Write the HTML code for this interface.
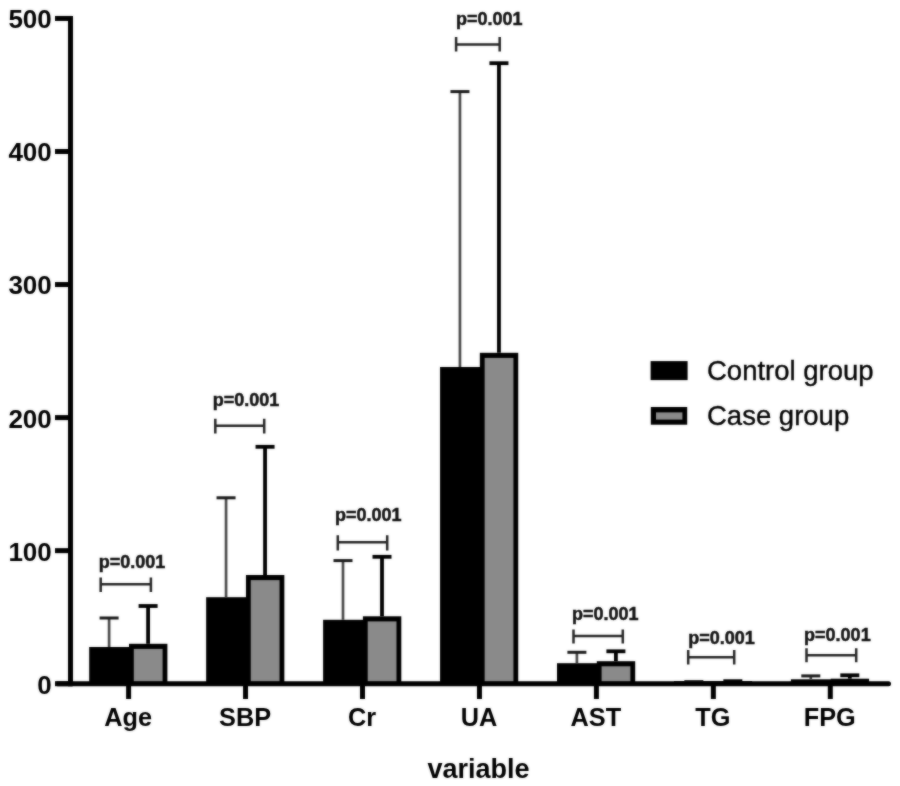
<!DOCTYPE html><html><head><meta charset="utf-8"><style>html,body{margin:0;padding:0;background:#fff;overflow:hidden;}svg{display:block;} #w{position:relative;width:900px;height:786px;} #b{position:absolute;left:0;top:0;filter:blur(0.8px);} #c{position:absolute;left:0;top:0;opacity:0.5;}text{font-family:"Liberation Sans",sans-serif;}</style></head><body>
<div id="w"><div id="b">
<svg width="900" height="786" viewBox="0 0 900 786">
<rect x="0" y="0" width="900" height="786" fill="#fff"/>
<rect x="89.19" y="647" width="41.4" height="36.70" fill="#000"/>
<rect x="129.0" y="643.8" width="38.4" height="39.90" fill="#000"/>
<rect x="133.8" y="648.9" width="28.79" height="32.80" fill="#8a8a8a"/>
<rect x="206.15" y="597.2" width="41.4" height="86.5" fill="#000"/>
<rect x="245.95" y="575" width="38.4" height="108.70" fill="#000"/>
<rect x="250.75" y="580.1" width="28.79" height="101.60" fill="#8a8a8a"/>
<rect x="323.1" y="619.8" width="41.4" height="63.90" fill="#000"/>
<rect x="362.9" y="616.3" width="38.4" height="67.40" fill="#000"/>
<rect x="367.7" y="621.4" width="28.79" height="60.30" fill="#8a8a8a"/>
<rect x="440.05" y="367" width="41.4" height="316.70" fill="#000"/>
<rect x="479.84" y="352.8" width="38.4" height="330.90" fill="#000"/>
<rect x="484.65" y="357.90" width="28.79" height="323.8" fill="#8a8a8a"/>
<rect x="557.0" y="663.2" width="41.4" height="20.5" fill="#000"/>
<rect x="596.8" y="661.2" width="38.4" height="22.5" fill="#000"/>
<rect x="601.59" y="666.30" width="28.79" height="15.39" fill="#8a8a8a"/>
<rect x="673.95" y="681.0" width="41.4" height="2.70" fill="#000"/>
<rect x="713.75" y="681.0" width="38.4" height="2.70" fill="#000"/>
<rect x="790.9" y="679.3" width="41.4" height="4.40" fill="#000"/>
<rect x="830.69" y="678.7" width="38.4" height="5.0" fill="#000"/>
<line x1="109.1" y1="618" x2="109.1" y2="647" stroke="#4a4a4a" stroke-width="2.7"/>
<line x1="99.6" y1="618" x2="118.6" y2="618" stroke="#1a1a1a" stroke-width="3"/>
<line x1="148.1" y1="606" x2="148.1" y2="643.8" stroke="#000" stroke-width="3.8"/>
<line x1="138.6" y1="606" x2="157.6" y2="606" stroke="#000" stroke-width="3.8"/>
<line x1="226.05" y1="497.8" x2="226.05" y2="597.2" stroke="#4a4a4a" stroke-width="2.7"/>
<line x1="216.55" y1="497.8" x2="235.55" y2="497.8" stroke="#1a1a1a" stroke-width="3"/>
<line x1="265.05" y1="446.8" x2="265.05" y2="575" stroke="#000" stroke-width="3.8"/>
<line x1="255.55" y1="446.8" x2="274.55" y2="446.8" stroke="#000" stroke-width="3.8"/>
<line x1="343.0" y1="560.6" x2="343.0" y2="619.8" stroke="#4a4a4a" stroke-width="2.7"/>
<line x1="333.5" y1="560.6" x2="352.5" y2="560.6" stroke="#1a1a1a" stroke-width="3"/>
<line x1="382.0" y1="556.8" x2="382.0" y2="616.3" stroke="#000" stroke-width="3.8"/>
<line x1="372.5" y1="556.8" x2="391.5" y2="556.8" stroke="#000" stroke-width="3.8"/>
<line x1="459.95" y1="91.6" x2="459.95" y2="367" stroke="#4a4a4a" stroke-width="2.7"/>
<line x1="450.45" y1="91.6" x2="469.45" y2="91.6" stroke="#1a1a1a" stroke-width="3"/>
<line x1="498.95" y1="63.2" x2="498.95" y2="352.8" stroke="#000" stroke-width="3.8"/>
<line x1="489.45" y1="63.2" x2="508.45" y2="63.2" stroke="#000" stroke-width="3.8"/>
<line x1="576.9" y1="652.3" x2="576.9" y2="663.2" stroke="#4a4a4a" stroke-width="2.7"/>
<line x1="567.4" y1="652.3" x2="586.4" y2="652.3" stroke="#1a1a1a" stroke-width="3"/>
<line x1="615.9" y1="651.3" x2="615.9" y2="661.2" stroke="#000" stroke-width="3.8"/>
<line x1="606.4" y1="651.3" x2="625.4" y2="651.3" stroke="#000" stroke-width="3.8"/>
<line x1="693.85" y1="681.6" x2="693.85" y2="681.0" stroke="#4a4a4a" stroke-width="2.7"/>
<line x1="684.35" y1="681.6" x2="703.35" y2="681.6" stroke="#1a1a1a" stroke-width="3"/>
<line x1="732.85" y1="681.2" x2="732.85" y2="681.0" stroke="#000" stroke-width="3.8"/>
<line x1="723.35" y1="681.2" x2="742.35" y2="681.2" stroke="#000" stroke-width="3.8"/>
<line x1="810.8" y1="675.9" x2="810.8" y2="679.3" stroke="#4a4a4a" stroke-width="2.7"/>
<line x1="801.3" y1="675.9" x2="820.3" y2="675.9" stroke="#1a1a1a" stroke-width="3"/>
<line x1="849.8" y1="675.3" x2="849.8" y2="678.7" stroke="#000" stroke-width="3.8"/>
<line x1="840.3" y1="675.3" x2="859.3" y2="675.3" stroke="#000" stroke-width="3.8"/>
<line x1="70.5" y1="16" x2="70.5" y2="686.2" stroke="#000" stroke-width="5"/>
<line x1="57.5" y1="683.7" x2="888.5" y2="683.7" stroke="#000" stroke-width="5" stroke-linecap="round"/>
<line x1="55" y1="683.70" x2="72" y2="683.70" stroke="#000" stroke-width="5"/>
<text x="51.8" y="693.60" text-anchor="end" font-size="26" font-weight="bold" fill="#000">0</text>
<line x1="55" y1="550.65" x2="72" y2="550.65" stroke="#000" stroke-width="5"/>
<text x="51.8" y="560.55" text-anchor="end" font-size="26" font-weight="bold" fill="#000">100</text>
<line x1="55" y1="417.60" x2="72" y2="417.60" stroke="#000" stroke-width="5"/>
<text x="51.8" y="427.50" text-anchor="end" font-size="26" font-weight="bold" fill="#000">200</text>
<line x1="55" y1="284.55" x2="72" y2="284.55" stroke="#000" stroke-width="5"/>
<text x="51.8" y="294.45" text-anchor="end" font-size="26" font-weight="bold" fill="#000">300</text>
<line x1="55" y1="151.50" x2="72" y2="151.50" stroke="#000" stroke-width="5"/>
<text x="51.8" y="161.40" text-anchor="end" font-size="26" font-weight="bold" fill="#000">400</text>
<line x1="55" y1="18.45" x2="72" y2="18.45" stroke="#000" stroke-width="5"/>
<text x="51.8" y="28.35" text-anchor="end" font-size="26" font-weight="bold" fill="#000">500</text>
<line x1="128.6" y1="683.7" x2="128.6" y2="699" stroke="#000" stroke-width="5"/>
<text x="128.1" y="725.7" text-anchor="middle" font-size="25.3" font-weight="bold" fill="#000">Age</text>
<line x1="245.55" y1="683.7" x2="245.55" y2="699" stroke="#000" stroke-width="5"/>
<text x="245.05" y="725.7" text-anchor="middle" font-size="25.3" font-weight="bold" fill="#000">SBP</text>
<line x1="362.5" y1="683.7" x2="362.5" y2="699" stroke="#000" stroke-width="5"/>
<text x="362.0" y="725.7" text-anchor="middle" font-size="25.3" font-weight="bold" fill="#000">Cr</text>
<line x1="479.45" y1="683.7" x2="479.45" y2="699" stroke="#000" stroke-width="5"/>
<text x="478.95" y="725.7" text-anchor="middle" font-size="25.3" font-weight="bold" fill="#000">UA</text>
<line x1="596.4" y1="683.7" x2="596.4" y2="699" stroke="#000" stroke-width="5"/>
<text x="595.9" y="725.7" text-anchor="middle" font-size="25.3" font-weight="bold" fill="#000">AST</text>
<line x1="713.35" y1="683.7" x2="713.35" y2="699" stroke="#000" stroke-width="5"/>
<text x="712.85" y="725.7" text-anchor="middle" font-size="25.3" font-weight="bold" fill="#000">TG</text>
<line x1="830.3" y1="683.7" x2="830.3" y2="699" stroke="#000" stroke-width="5"/>
<text x="829.8" y="725.7" text-anchor="middle" font-size="25.3" font-weight="bold" fill="#000">FPG</text>
<text x="478.6" y="777.7" text-anchor="middle" font-size="27" font-weight="bold" fill="#000">variable</text>
<path d="M100.7 577.6V592M100.7 584.2H150.9M150.9 577.6V592" stroke="#262626" stroke-width="2.5" fill="none"/>
<path d="M215.3 418.8V433.4M215.3 425.8H264.2M264.2 418.8V433.4" stroke="#262626" stroke-width="2.5" fill="none"/>
<path d="M337.8 535.2V550.4M337.8 542.2H387.2M387.2 535.2V550.4" stroke="#262626" stroke-width="2.5" fill="none"/>
<path d="M456.1 36.9V51.5M456.1 44.5H499.7M499.7 36.9V51.5" stroke="#262626" stroke-width="2.5" fill="none"/>
<path d="M573.5 629.4V643.4M573.5 636.1H622.8M622.8 629.4V643.4" stroke="#262626" stroke-width="2.5" fill="none"/>
<path d="M688.2 650V664.5M688.2 657.3H734.2M734.2 650V664.5" stroke="#262626" stroke-width="2.5" fill="none"/>
<path d="M806.5 648.2V662.2M806.5 655.2H856.2M856.2 648.2V662.2" stroke="#262626" stroke-width="2.5" fill="none"/>
<text x="98.8" y="568.1" font-size="18" font-weight="bold" fill="#111" stroke="#111" stroke-width="0.5">p=0.001</text>
<text x="212.8" y="405.6" font-size="18" font-weight="bold" fill="#111" stroke="#111" stroke-width="0.5">p=0.001</text>
<text x="335.0" y="520.7" font-size="18" font-weight="bold" fill="#111" stroke="#111" stroke-width="0.5">p=0.001</text>
<text x="455.9" y="25.1" font-size="18" font-weight="bold" fill="#111" stroke="#111" stroke-width="0.5">p=0.001</text>
<text x="572.0" y="620.1" font-size="18" font-weight="bold" fill="#111" stroke="#111" stroke-width="0.5">p=0.001</text>
<text x="688.2" y="643.9" font-size="18" font-weight="bold" fill="#111" stroke="#111" stroke-width="0.5">p=0.001</text>
<text x="804.1" y="640.7" font-size="18" font-weight="bold" fill="#111" stroke="#111" stroke-width="0.5">p=0.001</text>
<rect x="650.6" y="361.1" width="37" height="19" fill="#000"/>
<rect x="650.8" y="407" width="36.4" height="17.7" fill="#000"/>
<rect x="656" y="412.4" width="26.4" height="7.2" fill="#8a8a8a"/>
<text x="707" y="380" font-size="27.5" fill="#000" stroke="#000" stroke-width="0.35">Control group</text>
<text x="707" y="425" font-size="27.5" fill="#000" stroke="#000" stroke-width="0.35">Case group</text>
</svg></div><div id="c"><svg width="900" height="786" viewBox="0 0 900 786">
<rect x="0" y="0" width="900" height="786" fill="#fff"/>
<rect x="89.19" y="647" width="41.4" height="36.70" fill="#000"/>
<rect x="129.0" y="643.8" width="38.4" height="39.90" fill="#000"/>
<rect x="133.8" y="648.9" width="28.79" height="32.80" fill="#8a8a8a"/>
<rect x="206.15" y="597.2" width="41.4" height="86.5" fill="#000"/>
<rect x="245.95" y="575" width="38.4" height="108.70" fill="#000"/>
<rect x="250.75" y="580.1" width="28.79" height="101.60" fill="#8a8a8a"/>
<rect x="323.1" y="619.8" width="41.4" height="63.90" fill="#000"/>
<rect x="362.9" y="616.3" width="38.4" height="67.40" fill="#000"/>
<rect x="367.7" y="621.4" width="28.79" height="60.30" fill="#8a8a8a"/>
<rect x="440.05" y="367" width="41.4" height="316.70" fill="#000"/>
<rect x="479.84" y="352.8" width="38.4" height="330.90" fill="#000"/>
<rect x="484.65" y="357.90" width="28.79" height="323.8" fill="#8a8a8a"/>
<rect x="557.0" y="663.2" width="41.4" height="20.5" fill="#000"/>
<rect x="596.8" y="661.2" width="38.4" height="22.5" fill="#000"/>
<rect x="601.59" y="666.30" width="28.79" height="15.39" fill="#8a8a8a"/>
<rect x="673.95" y="681.0" width="41.4" height="2.70" fill="#000"/>
<rect x="713.75" y="681.0" width="38.4" height="2.70" fill="#000"/>
<rect x="790.9" y="679.3" width="41.4" height="4.40" fill="#000"/>
<rect x="830.69" y="678.7" width="38.4" height="5.0" fill="#000"/>
<line x1="109.1" y1="618" x2="109.1" y2="647" stroke="#4a4a4a" stroke-width="2.7"/>
<line x1="99.6" y1="618" x2="118.6" y2="618" stroke="#1a1a1a" stroke-width="3"/>
<line x1="148.1" y1="606" x2="148.1" y2="643.8" stroke="#000" stroke-width="3.8"/>
<line x1="138.6" y1="606" x2="157.6" y2="606" stroke="#000" stroke-width="3.8"/>
<line x1="226.05" y1="497.8" x2="226.05" y2="597.2" stroke="#4a4a4a" stroke-width="2.7"/>
<line x1="216.55" y1="497.8" x2="235.55" y2="497.8" stroke="#1a1a1a" stroke-width="3"/>
<line x1="265.05" y1="446.8" x2="265.05" y2="575" stroke="#000" stroke-width="3.8"/>
<line x1="255.55" y1="446.8" x2="274.55" y2="446.8" stroke="#000" stroke-width="3.8"/>
<line x1="343.0" y1="560.6" x2="343.0" y2="619.8" stroke="#4a4a4a" stroke-width="2.7"/>
<line x1="333.5" y1="560.6" x2="352.5" y2="560.6" stroke="#1a1a1a" stroke-width="3"/>
<line x1="382.0" y1="556.8" x2="382.0" y2="616.3" stroke="#000" stroke-width="3.8"/>
<line x1="372.5" y1="556.8" x2="391.5" y2="556.8" stroke="#000" stroke-width="3.8"/>
<line x1="459.95" y1="91.6" x2="459.95" y2="367" stroke="#4a4a4a" stroke-width="2.7"/>
<line x1="450.45" y1="91.6" x2="469.45" y2="91.6" stroke="#1a1a1a" stroke-width="3"/>
<line x1="498.95" y1="63.2" x2="498.95" y2="352.8" stroke="#000" stroke-width="3.8"/>
<line x1="489.45" y1="63.2" x2="508.45" y2="63.2" stroke="#000" stroke-width="3.8"/>
<line x1="576.9" y1="652.3" x2="576.9" y2="663.2" stroke="#4a4a4a" stroke-width="2.7"/>
<line x1="567.4" y1="652.3" x2="586.4" y2="652.3" stroke="#1a1a1a" stroke-width="3"/>
<line x1="615.9" y1="651.3" x2="615.9" y2="661.2" stroke="#000" stroke-width="3.8"/>
<line x1="606.4" y1="651.3" x2="625.4" y2="651.3" stroke="#000" stroke-width="3.8"/>
<line x1="693.85" y1="681.6" x2="693.85" y2="681.0" stroke="#4a4a4a" stroke-width="2.7"/>
<line x1="684.35" y1="681.6" x2="703.35" y2="681.6" stroke="#1a1a1a" stroke-width="3"/>
<line x1="732.85" y1="681.2" x2="732.85" y2="681.0" stroke="#000" stroke-width="3.8"/>
<line x1="723.35" y1="681.2" x2="742.35" y2="681.2" stroke="#000" stroke-width="3.8"/>
<line x1="810.8" y1="675.9" x2="810.8" y2="679.3" stroke="#4a4a4a" stroke-width="2.7"/>
<line x1="801.3" y1="675.9" x2="820.3" y2="675.9" stroke="#1a1a1a" stroke-width="3"/>
<line x1="849.8" y1="675.3" x2="849.8" y2="678.7" stroke="#000" stroke-width="3.8"/>
<line x1="840.3" y1="675.3" x2="859.3" y2="675.3" stroke="#000" stroke-width="3.8"/>
<line x1="70.5" y1="16" x2="70.5" y2="686.2" stroke="#000" stroke-width="5"/>
<line x1="57.5" y1="683.7" x2="888.5" y2="683.7" stroke="#000" stroke-width="5" stroke-linecap="round"/>
<line x1="55" y1="683.70" x2="72" y2="683.70" stroke="#000" stroke-width="5"/>
<text x="51.8" y="693.60" text-anchor="end" font-size="26" font-weight="bold" fill="#000">0</text>
<line x1="55" y1="550.65" x2="72" y2="550.65" stroke="#000" stroke-width="5"/>
<text x="51.8" y="560.55" text-anchor="end" font-size="26" font-weight="bold" fill="#000">100</text>
<line x1="55" y1="417.60" x2="72" y2="417.60" stroke="#000" stroke-width="5"/>
<text x="51.8" y="427.50" text-anchor="end" font-size="26" font-weight="bold" fill="#000">200</text>
<line x1="55" y1="284.55" x2="72" y2="284.55" stroke="#000" stroke-width="5"/>
<text x="51.8" y="294.45" text-anchor="end" font-size="26" font-weight="bold" fill="#000">300</text>
<line x1="55" y1="151.50" x2="72" y2="151.50" stroke="#000" stroke-width="5"/>
<text x="51.8" y="161.40" text-anchor="end" font-size="26" font-weight="bold" fill="#000">400</text>
<line x1="55" y1="18.45" x2="72" y2="18.45" stroke="#000" stroke-width="5"/>
<text x="51.8" y="28.35" text-anchor="end" font-size="26" font-weight="bold" fill="#000">500</text>
<line x1="128.6" y1="683.7" x2="128.6" y2="699" stroke="#000" stroke-width="5"/>
<text x="128.1" y="725.7" text-anchor="middle" font-size="25.3" font-weight="bold" fill="#000">Age</text>
<line x1="245.55" y1="683.7" x2="245.55" y2="699" stroke="#000" stroke-width="5"/>
<text x="245.05" y="725.7" text-anchor="middle" font-size="25.3" font-weight="bold" fill="#000">SBP</text>
<line x1="362.5" y1="683.7" x2="362.5" y2="699" stroke="#000" stroke-width="5"/>
<text x="362.0" y="725.7" text-anchor="middle" font-size="25.3" font-weight="bold" fill="#000">Cr</text>
<line x1="479.45" y1="683.7" x2="479.45" y2="699" stroke="#000" stroke-width="5"/>
<text x="478.95" y="725.7" text-anchor="middle" font-size="25.3" font-weight="bold" fill="#000">UA</text>
<line x1="596.4" y1="683.7" x2="596.4" y2="699" stroke="#000" stroke-width="5"/>
<text x="595.9" y="725.7" text-anchor="middle" font-size="25.3" font-weight="bold" fill="#000">AST</text>
<line x1="713.35" y1="683.7" x2="713.35" y2="699" stroke="#000" stroke-width="5"/>
<text x="712.85" y="725.7" text-anchor="middle" font-size="25.3" font-weight="bold" fill="#000">TG</text>
<line x1="830.3" y1="683.7" x2="830.3" y2="699" stroke="#000" stroke-width="5"/>
<text x="829.8" y="725.7" text-anchor="middle" font-size="25.3" font-weight="bold" fill="#000">FPG</text>
<text x="478.6" y="777.7" text-anchor="middle" font-size="27" font-weight="bold" fill="#000">variable</text>
<path d="M100.7 577.6V592M100.7 584.2H150.9M150.9 577.6V592" stroke="#262626" stroke-width="2.5" fill="none"/>
<path d="M215.3 418.8V433.4M215.3 425.8H264.2M264.2 418.8V433.4" stroke="#262626" stroke-width="2.5" fill="none"/>
<path d="M337.8 535.2V550.4M337.8 542.2H387.2M387.2 535.2V550.4" stroke="#262626" stroke-width="2.5" fill="none"/>
<path d="M456.1 36.9V51.5M456.1 44.5H499.7M499.7 36.9V51.5" stroke="#262626" stroke-width="2.5" fill="none"/>
<path d="M573.5 629.4V643.4M573.5 636.1H622.8M622.8 629.4V643.4" stroke="#262626" stroke-width="2.5" fill="none"/>
<path d="M688.2 650V664.5M688.2 657.3H734.2M734.2 650V664.5" stroke="#262626" stroke-width="2.5" fill="none"/>
<path d="M806.5 648.2V662.2M806.5 655.2H856.2M856.2 648.2V662.2" stroke="#262626" stroke-width="2.5" fill="none"/>
<text x="98.8" y="568.1" font-size="18" font-weight="bold" fill="#111" stroke="#111" stroke-width="0.5">p=0.001</text>
<text x="212.8" y="405.6" font-size="18" font-weight="bold" fill="#111" stroke="#111" stroke-width="0.5">p=0.001</text>
<text x="335.0" y="520.7" font-size="18" font-weight="bold" fill="#111" stroke="#111" stroke-width="0.5">p=0.001</text>
<text x="455.9" y="25.1" font-size="18" font-weight="bold" fill="#111" stroke="#111" stroke-width="0.5">p=0.001</text>
<text x="572.0" y="620.1" font-size="18" font-weight="bold" fill="#111" stroke="#111" stroke-width="0.5">p=0.001</text>
<text x="688.2" y="643.9" font-size="18" font-weight="bold" fill="#111" stroke="#111" stroke-width="0.5">p=0.001</text>
<text x="804.1" y="640.7" font-size="18" font-weight="bold" fill="#111" stroke="#111" stroke-width="0.5">p=0.001</text>
<rect x="650.6" y="361.1" width="37" height="19" fill="#000"/>
<rect x="650.8" y="407" width="36.4" height="17.7" fill="#000"/>
<rect x="656" y="412.4" width="26.4" height="7.2" fill="#8a8a8a"/>
<text x="707" y="380" font-size="27.5" fill="#000" stroke="#000" stroke-width="0.35">Control group</text>
<text x="707" y="425" font-size="27.5" fill="#000" stroke="#000" stroke-width="0.35">Case group</text>
</svg></div></div></body></html>
